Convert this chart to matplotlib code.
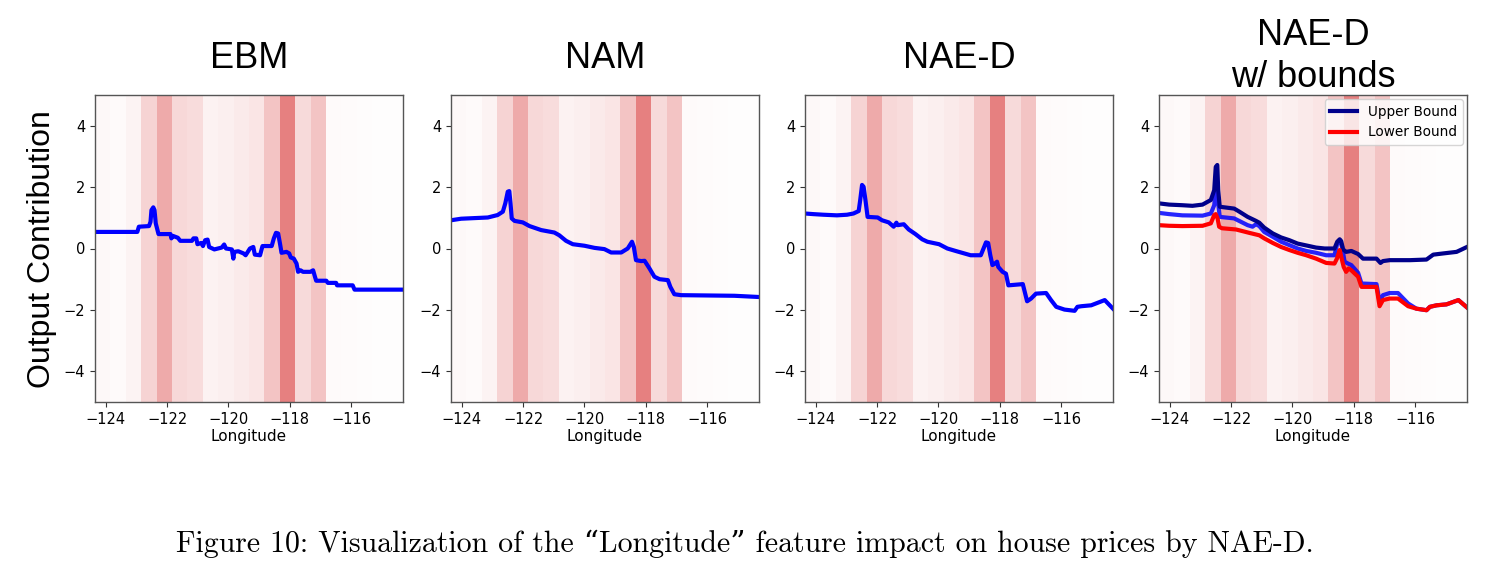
import matplotlib
matplotlib.use("Agg")
import numpy as np
import matplotlib.pyplot as plt

# x range of the feature (longitude) and density of samples in 20 blocks
x_range = (-124.35, -114.31)
density = [0.055, 0.04, 0.09, 0.34, 0.67, 0.30, 0.27, 0.10, 0.12, 0.16,
           0.20, 0.46, 1.0, 0.29, 0.46, 0.04, 0.03, 0.02, 0.015, 0.01]

ebm_x = [-124.29, -122.97, -122.92, -122.59, -122.54, -122.51, -122.45, -122.41, -122.37, -122.28,
         -121.89, -121.86, -121.81, -121.73, -121.65, -121.57, -121.19, -121.14, -121.05, -121.01,
         -120.89, -120.83, -120.76, -120.68, -120.63, -120.46, -120.22, -120.14, -120.08, -119.89,
         -119.84, -119.81, -119.68, -119.51, -119.44, -119.30, -119.19, -119.14, -118.97, -118.89,
         -118.59, -118.52, -118.45, -118.38, -118.32, -118.27, -118.11, -118.02, -117.97, -117.87,
         -117.78, -117.73, -117.65, -117.57, -117.33, -117.24, -117.18, -117.14, -116.81, -116.76,
         -116.49, -116.46, -115.95, -115.89, -114.31]
ebm_y = [0.54, 0.54, 0.71, 0.73, 0.87, 1.25, 1.34, 1.25, 0.82, 0.47,
         0.47, 0.33, 0.41, 0.38, 0.35, 0.25, 0.25, 0.33, 0.33, 0.14,
         0.18, 0.08, 0.27, 0.29, 0.05, -0.03, 0.03, 0.13, 0.0, -0.03,
         -0.33, -0.11, -0.09, -0.16, -0.22, 0.0, 0.05, -0.20, -0.22, 0.08,
         0.08, 0.33, 0.51, 0.49, 0.16, -0.14, -0.11, -0.16, -0.29, -0.33,
         -0.49, -0.76, -0.71, -0.76, -0.76, -0.71, -0.92, -1.05, -1.05, -1.12,
         -1.12, -1.20, -1.20, -1.34, -1.34]

nam_x = [-124.35, -124.02, -123.59, -123.15, -122.83, -122.66, -122.58, -122.50, -122.45, -122.41,
         -122.37, -122.28, -122.01, -121.79, -121.41, -120.98, -120.82, -120.60, -120.38, -120.0,
         -119.67, -119.35, -119.13, -118.80, -118.59, -118.45, -118.39, -118.32, -118.15, -118.04,
         -117.88, -117.72, -117.55, -117.28, -117.20, -117.07, -116.85, -115.98, -115.11, -114.31]
nam_y = [0.92, 0.97, 0.99, 1.01, 1.09, 1.20, 1.47, 1.85, 1.87, 1.47,
         0.98, 0.90, 0.85, 0.73, 0.60, 0.52, 0.43, 0.25, 0.14, 0.09,
         0.02, -0.02, -0.13, -0.13, 0.0, 0.22, 0.05, -0.38, -0.41, -0.40,
         -0.65, -0.92, -1.0, -1.03, -1.25, -1.49, -1.52, -1.53, -1.54, -1.58]

naed_x = [-124.35, -124.08, -123.75, -123.31, -122.98, -122.77, -122.60, -122.55, -122.49, -122.44,
          -122.38, -122.31, -121.98, -121.84, -121.62, -121.46, -121.37, -121.33, -121.13, -120.97,
          -120.75, -120.53, -120.36, -119.98, -119.71, -119.44, -119.16, -118.95, -118.62, -118.51,
          -118.45, -118.38, -118.31, -118.24, -118.16, -118.09, -118.05, -117.91, -117.80, -117.72,
          -117.25, -117.20, -117.11, -116.98, -116.82, -116.49, -116.33, -116.16, -115.89, -115.56,
          -115.47, -115.34, -115.02, -114.58, -114.31]
naed_y = [1.14, 1.12, 1.10, 1.08, 1.10, 1.14, 1.22, 1.58, 2.07, 2.01,
          1.58, 1.03, 1.01, 0.92, 0.85, 0.71, 0.84, 0.76, 0.79, 0.62,
          0.47, 0.30, 0.22, 0.14, 0.0, -0.08, -0.16, -0.22, -0.22, 0.05,
          0.20, 0.18, -0.22, -0.54, -0.49, -0.43, -0.60, -0.76, -0.82, -1.20,
          -1.16, -1.36, -1.72, -1.63, -1.47, -1.45, -1.68, -1.90, -1.99, -2.03,
          -1.90, -1.88, -1.85, -1.68, -1.96]

upper_x = [-124.35, -124.02, -123.59, -123.26, -122.93, -122.66, -122.55, -122.50, -122.45, -122.42,
           -122.37, -121.90, -121.73, -121.46, -121.19, -121.08, -120.92, -120.64, -120.37, -120.10,
           -119.83, -119.55, -119.23, -118.95, -118.63, -118.54, -118.46, -118.41, -118.35, -118.25,
           -118.08, -117.86, -117.70, -117.26, -117.13, -117.05, -116.83, -116.17, -115.63, -115.41,
           -115.08, -114.65, -114.31]
upper_y = [1.47, 1.43, 1.41, 1.39, 1.43, 1.58, 1.90, 2.66, 2.72, 1.90,
           1.36, 1.30, 1.20, 1.03, 0.90, 0.84, 0.68, 0.49, 0.36, 0.27,
           0.16, 0.10, 0.03, 0.0, 0.0, 0.22, 0.30, 0.24, -0.03, -0.11,
           -0.08, -0.18, -0.33, -0.33, -0.47, -0.41, -0.38, -0.38, -0.36, -0.20,
           -0.16, -0.11, 0.05]

lower_x = [-124.35, -124.02, -123.59, -122.93, -122.66, -122.55, -122.50, -122.44, -122.39, -122.30,
           -121.84, -121.41, -121.08, -120.92, -120.64, -120.37, -120.10, -119.83, -119.55, -119.23,
           -118.90, -118.63, -118.55, -118.46, -118.41, -118.33, -118.25, -118.17, -118.08, -117.86,
           -117.75, -117.26, -117.16, -117.05, -116.83, -116.56, -116.23, -115.96, -115.63, -115.52,
           -115.30, -114.98, -114.59, -114.31]
lower_y = [0.76, 0.74, 0.73, 0.74, 0.82, 1.09, 1.12, 0.98, 0.71, 0.66,
           0.62, 0.51, 0.43, 0.33, 0.18, 0.05, -0.05, -0.14, -0.22, -0.33,
           -0.47, -0.49, -0.33, -0.05, -0.27, -0.60, -0.76, -0.65, -0.71, -0.92,
           -1.25, -1.25, -1.88, -1.68, -1.63, -1.63, -1.88, -1.96, -2.01, -1.90,
           -1.85, -1.82, -1.68, -1.92]

mid_x = [-124.35, -124.02, -123.59, -122.93, -122.66, -122.55, -122.50, -122.45, -122.42, -122.37,
         -121.90, -121.68, -121.46, -121.30, -121.19, -121.08, -120.92, -120.64, -120.37, -120.10,
         -119.83, -119.55, -119.23, -118.90, -118.63, -118.54, -118.46, -118.38, -118.30, -118.19,
         -118.08, -117.86, -117.75, -117.26, -117.16, -117.05, -116.83, -116.56, -116.23, -115.96,
         -115.63, -115.52, -115.30, -114.98, -114.59, -114.31]
mid_y = [1.16, 1.12, 1.08, 1.07, 1.14, 1.41, 1.90, 2.01, 1.47, 1.03,
         0.98, 0.87, 0.76, 0.71, 0.79, 0.73, 0.54, 0.38, 0.22, 0.11,
         0.0, -0.08, -0.14, -0.22, -0.22, 0.16, 0.27, 0.05, -0.43, -0.49,
         -0.54, -0.79, -1.14, -1.16, -1.74, -1.52, -1.45, -1.45, -1.79, -1.96,
         -2.01, -1.90, -1.85, -1.82, -1.68, -1.92]

titles = ["EBM", "NAM", "NAE-D", "NAE-D\nw/ bounds"]
caption = "Figure 10: Visualization of the \u201cLongitude\u201d feature impact on house prices by NAE-D."

shade = (0.9, 0.5, 0.5)
title_font = ["Liberation Sans", "DejaVu Sans"]

fig = plt.figure(figsize=(14.89, 5.74), dpi=100)
lefts = [95, 451, 805, 1159]
axes = []
for l in lefts:
    ax = fig.add_axes([l / 1489, (574 - 402) / 574, 308 / 1489, 307 / 574])
    axes.append(ax)

edges = np.linspace(x_range[0], x_range[1], len(density) + 1)
for i, ax in enumerate(axes):
    for k, d in enumerate(density):
        ax.axvspan(edges[k], edges[k + 1], color=shade, alpha=d, lw=0, zorder=0)
    ax.set_xlim(x_range)
    ax.set_ylim(-5, 5)
    ax.set_xticks([-124, -122, -120, -118, -116])
    ax.set_yticks([-4, -2, 0, 2, 4])
    ax.tick_params(labelsize=10.5, color="#333333")
    for s in ax.spines.values():
        s.set_color("#555555")
        s.set_linewidth(1.0)
    ax.set_xlabel("Longitude", fontsize=11, labelpad=2)
    if "\n" in titles[i]:
        first, second = titles[i].split("\n")
        ax.text(0.5, 1.163, first, transform=ax.transAxes, ha="center", va="baseline",
                fontsize=26, family=title_font)
        ax.text(0.5, 1.026, second, transform=ax.transAxes, ha="center", va="baseline",
                fontsize=26, family=title_font)
    else:
        ax.text(0.5, 1.088, titles[i], transform=ax.transAxes, ha="center", va="baseline",
                fontsize=26, family=title_font)

axes[0].plot(ebm_x, ebm_y, color="blue", lw=3)
axes[1].plot(nam_x, nam_y, color="blue", lw=3)
axes[2].plot(naed_x, naed_y, color="blue", lw=3)
axes[3].plot(mid_x, mid_y, color="blue", lw=3, alpha=0.85)
axes[3].plot(upper_x, upper_y, color="darkblue", lw=3, label="Upper Bound")
axes[3].plot(lower_x, lower_y, color="red", lw=3, label="Lower Bound")
axes[3].legend(loc="upper right", fontsize=9.8, borderaxespad=0.3)

fig.text(42 / 1489, 1 - 249 / 574, "Output Contribution", rotation=90, ha="center", va="center",
         fontsize=23, family=title_font)

fig.text(0.5, 1 - 552 / 574, caption, ha="center", va="baseline", fontsize=21.5,
         family=["cmr10", "DejaVu Serif"])

fig.savefig("out.png", dpi=100)
